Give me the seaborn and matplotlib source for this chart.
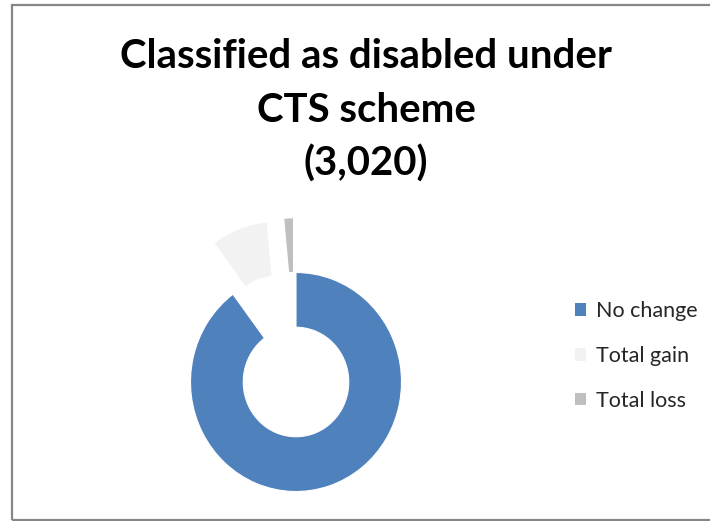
import matplotlib
matplotlib.use("Agg")
import matplotlib.pyplot as plt
from matplotlib.patches import Rectangle, Patch
import seaborn as sns

categories = ["No change", "Total gain", "Total loss"]
counts = [2712, 263, 45]
colors = ["#4F81BD", "#F2F2F2", "#BFBFBF"]
title_lines = ["Classified as disabled under", "CTS scheme", "(3,020)"]

sns.set_theme(style="white")
plt.rcParams["font.family"] = ["Lato", "DejaVu Sans"]

W, H = 710, 521
fig = plt.figure(figsize=(W / 100, H / 100), dpi=100)
fig.patch.set_facecolor("white")

# chart frame (right edge runs off the picture)
fig.patches.append(Rectangle((12 / W, 1 - 520 / H), 720 / W, 515 / H,
                             transform=fig.transFigure, fill=False,
                             edgecolor="#868686", linewidth=1.6))

# doughnut, slightly taller than wide like the original
cx, cy, rx, ry, half = 296, 382, 105.5, 109.5, 200
ax = fig.add_axes([(cx - half) / W, 1 - (cy + half) / H, 2 * half / W, 2 * half / H])
wedges, _ = ax.pie(counts, colors=colors, startangle=90, counterclock=False,
                   explode=[0, 0.5, 0.5],
                   wedgeprops=dict(width=0.5, edgecolor="white", linewidth=0.8))
ax.set_aspect("auto")
ax.set_xlim(-half / rx, half / rx)
ax.set_ylim(-half / ry, half / ry)
ax.axis("off")

# title, fitted to the width of the original first line
ys = [56, 110, 164]
texts = [fig.text(366 / W, 1 - y / H, s, ha="center", va="center",
                  fontsize=30, fontweight="bold", color="black")
         for s, y in zip(title_lines, ys)]
fig.canvas.draw()
r = fig.canvas.get_renderer()
w0 = texts[0].get_window_extent(r).width
for t in texts:
    t.set_fontsize(30 * 490 / w0)

handles = [Patch(facecolor=c, edgecolor="none") for c in colors]
fig.legend(handles, categories, loc="center left",
           bbox_to_anchor=(575 / W, 1 - 356 / H), frameon=False,
           borderpad=0, borderaxespad=0,
           fontsize=15.5, handlelength=0.51, handleheight=0.51,
           handletextpad=0.47, labelspacing=1.15)

fig.savefig("out.png", dpi=100, facecolor="white")
